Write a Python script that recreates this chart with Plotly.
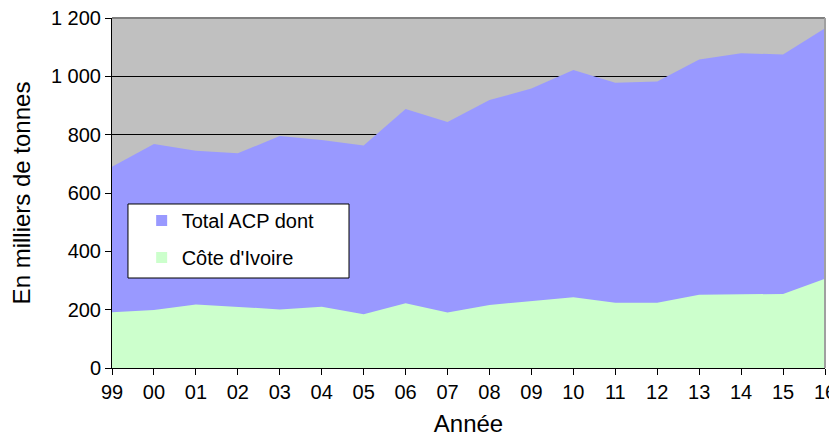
import plotly.graph_objects as go

# Données (milliers de tonnes)
annees = ['99', '00', '01', '02', '03', '04', '05', '06', '07', '08',
          '09', '10', '11', '12', '13', '14', '15', '16']
total_acp = [690, 768, 745, 736, 795, 782, 763, 888, 843, 919,
             958, 1022, 978, 982, 1058, 1079, 1075, 1165]
cote_ivoire = [191, 199, 218, 210, 201, 210, 184, 222, 190, 216,
               229, 243, 224, 224, 251, 252, 254, 306]

couleur_total = '#9999FF'
couleur_ci = '#CCFFCC'

police = dict(family='Liberation Sans, Arial, sans-serif', size=20, color='black')

fig = go.Figure()

# Aires (sans légende)
fig.add_trace(go.Scatter(x=annees, y=total_acp, mode='lines', fill='tozeroy',
                         line=dict(width=0, color=couleur_total),
                         fillcolor=couleur_total, showlegend=False, hoverinfo='skip'))
fig.add_trace(go.Scatter(x=annees, y=cote_ivoire, mode='lines', fill='tozeroy',
                         line=dict(width=0, color=couleur_ci),
                         fillcolor=couleur_ci, showlegend=False, hoverinfo='skip'))

# Entrées de légende avec des carrés
fig.add_trace(go.Scatter(x=[None], y=[None], mode='markers', name='Total ACP dont',
                         marker=dict(symbol='square', size=11, color=couleur_total),
                         legendgroup='a'))
fig.add_trace(go.Scatter(x=[None], y=[None], mode='markers', name="Côte d'Ivoire",
                         marker=dict(symbol='square', size=11, color=couleur_ci),
                         legendgroup='b'))

# la page html a une marge de 8 px : on réduit la figure d'autant
fig.update_layout(
    width=829, height=429,
    margin=dict(l=104, r=12, t=10, b=69),
    paper_bgcolor='white',
    plot_bgcolor='#C0C0C0',
    font=police,
    separators=', ',
    legend=dict(x=0.0416, y=0.477, xanchor='left', yanchor='top',
                bgcolor='rgba(0,0,0,0)', borderwidth=0,
                traceorder='grouped', tracegroupgap=8, font=police),
    shapes=[
        # cadre du graphique (haut et droite)
        dict(type='line', xref='paper', yref='paper', x0=0, x1=1, y0=1, y1=1,
             line=dict(color='#808080', width=2), layer='above'),
        dict(type='line', xref='paper', yref='paper', x0=1, x1=1, y0=0, y1=1,
             line=dict(color='#A0A0A0', width=2), layer='above'),
        # cadre de la légende
        dict(type='rect', xref='paper', yref='paper', x0=0.0224, x1=0.3324,
             y0=0.2571, y1=0.4686, fillcolor='white',
             line=dict(color='black', width=1), layer='above'),
    ],
)

fig.update_xaxes(type='category', range=[0, len(annees) - 1], automargin=False,
                 showgrid=False, showline=True, linecolor='black', linewidth=1,
                 ticks='outside', ticklen=6, tickcolor='black',
                 ticklabeloverflow='allow',
                 title=dict(text='Année', standoff=31), tickfont=police)

fig.update_yaxes(range=[0, 1200], tickvals=[0, 200, 400, 600, 800, 1000, 1200],
                 tickformat=',d', automargin=False,
                 showgrid=True, gridcolor='black', gridwidth=1,
                 zeroline=False, showline=True, linecolor='black', linewidth=1,
                 ticks='outside', ticklen=6, tickcolor='black',
                 ticklabeloverflow='allow',
                 title=dict(text='En milliers de tonnes', standoff=28), tickfont=police)

fig.write_html("out.html")
